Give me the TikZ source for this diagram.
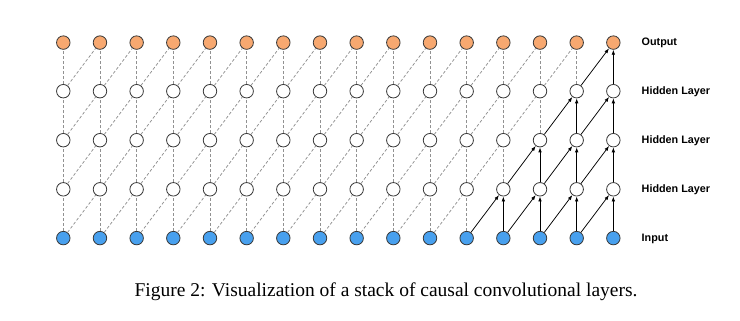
\documentclass[tikz,border=0pt]{standalone}
\usepackage{fontspec}
\setmainfont{Liberation Serif}
\newfontfamily\labfont{Liberation Sans}
\usetikzlibrary{arrows.meta}
\definecolor{outorange}{RGB}{247,168,112}
\definecolor{inblue}{RGB}{72,160,238}
\definecolor{nodeedge}{RGB}{55,55,55}
\definecolor{dashgray}{RGB}{145,145,145}
\begin{document}
\begin{tikzpicture}[x=1pt,y=-1pt,
  unit/.style={circle,draw=nodeedge,line width=0.8pt,minimum size=13.5pt,inner sep=0pt},
  outunit/.style={unit,fill=outorange},
  inunit/.style={unit,fill=inblue},
  hidunit/.style={unit,fill=white},
  dashedge/.style={draw=dashgray,line width=0.75pt,dash pattern=on 3pt off 2pt},
  solidedge/.style={draw=black,line width=0.75pt,-{Latex[length=5pt,width=3.6pt]}},
  layerlabel/.style={anchor=west,font=\labfont\bfseries\fontsize{10.8}{12}\selectfont,inner sep=0pt}
]
\useasboundingbox (0,0) rectangle (740,321);
% nodes
\foreach \c in {0,...,15}{
  \pgfmathsetmacro{\xx}{63.3+36.67*\c}
  \node[inunit]  (n-0-\c) at (\xx,238.1) {};
  \node[hidunit] (n-1-\c) at (\xx,189.3) {};
  \node[hidunit] (n-2-\c) at (\xx,140.2) {};
  \node[hidunit] (n-3-\c) at (\xx,91.2) {};
  \node[outunit] (n-4-\c) at (\xx,42.6) {};
}
% edges
\foreach \r in {1,...,4}{
  \pgfmathtruncatemacro{\pr}{\r-1}
  \pgfmathtruncatemacro{\lim}{11+\r}
  \foreach \c in {0,...,15}{
    \pgfmathtruncatemacro{\pc}{\c-1}
    \ifnum\c<\lim
      \draw[dashedge] (n-\pr-\c) -- (n-\r-\c);
      \ifnum\c>0 \draw[dashedge] (n-\pr-\pc) -- (n-\r-\c); \fi
    \else
      \draw[solidedge] (n-\pr-\c) -- (n-\r-\c);
      \draw[solidedge] (n-\pr-\pc) -- (n-\r-\c);
    \fi
  }
}
% labels
\node[layerlabel] (lout) at (641.5,43.2) {Output};
\node[layerlabel] (lh3) at (641.5,91.8) {Hidden Layer};
\node[layerlabel] (lh2) at (641.5,140.8) {Hidden Layer};
\node[layerlabel] (lh1) at (641.5,189.9) {Hidden Layer};
\node[layerlabel] (lin) at (641.5,238.7) {Input};
% caption
\node[font=\fontsize{19.5}{22}\selectfont,inner sep=0pt] (cap) at (386,291.5) {Figure 2: Visualization of a stack of causal convolutional layers.};
\end{tikzpicture}
\end{document}
